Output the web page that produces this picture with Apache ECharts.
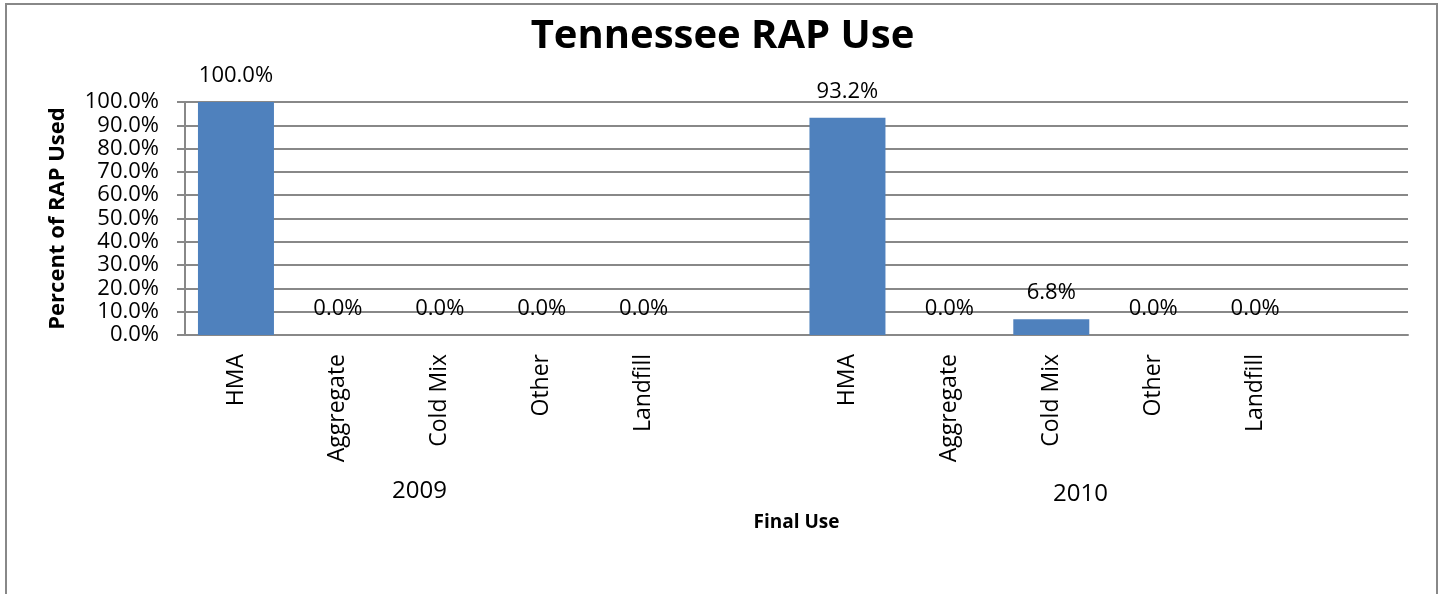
<!DOCTYPE html>
<html>
<head>
<meta charset="utf-8">
<script src="https://cdn.jsdelivr.net/npm/echarts@6/dist/echarts.min.js"></script>
<style>
  html, body { margin: 0; padding: 0; background: #fff; }
  #main { width: 1445px; height: 594px; }
</style>
</head>
<body>
<div id="main"></div>
<script>
// categories: 2009 group, gap, 2010 group, gap
var categories = ['HMA', 'Aggregate', 'Cold Mix', 'Other', 'Landfill', '',
                  'HMA', 'Aggregate', 'Cold Mix', 'Other', 'Landfill', ''];
var percentUsed = [100.0, 0.0, 0.0, 0.0, 0.0, null,
                   93.2, 0.0, 6.8, 0.0, 0.0, null];
var yearLabels = ['2009', '2010'];
var yTicks = [0, 10, 20, 30, 40, 50, 60, 70, 80, 90, 100];

var font = '"Open Sans", "Noto Sans", sans-serif';

var optionRapUse = {
    animation: false,
    backgroundColor: '#ffffff',
    title: {
        text: 'Tennessee RAP Use',
        left: 'center',
        top: 12,
        textStyle: { fontFamily: font, fontSize: 40, fontWeight: 'bold', color: '#000' }
    },
    grid: { left: 185, right: 37, top: 102, bottom: 259 },
    xAxis: [{
        type: 'category',
        data: categories,
        name: 'Final Use',
        nameLocation: 'middle',
        nameGap: 178,
        nameTextStyle: { fontFamily: font, fontSize: 19, fontWeight: 'bold', color: '#000' },
        axisLine: { lineStyle: { color: '#888', width: 2 } },
        axisTick: { show: false },
        axisLabel: { rotate: 90, margin: 19, interval: 0, fontFamily: font, fontSize: 23, color: '#000' }
    }],
    yAxis: [{
        type: 'value',
        min: yTicks[0],
        max: yTicks[yTicks.length - 1],
        interval: 10,
        name: 'Percent of RAP Used',
        nameLocation: 'middle',
        nameGap: 116,
        nameTextStyle: { fontFamily: font, fontSize: 22, fontWeight: 'bold', color: '#000' },
        axisLine: { show: true, lineStyle: { color: '#888', width: 2 } },
        axisTick: { show: true, inside: false, length: 8, lineStyle: { color: '#888', width: 2 } },
        splitLine: { lineStyle: { color: '#888', width: 2 } },
        axisLabel: {
            margin: 26, fontFamily: font, fontSize: 22, color: '#000',
            formatter: function (v) { return v.toFixed(1) + '%'; }
        }
    }],
    series: [{
        name: 'Percent of RAP Used',
        type: 'bar',
        data: percentUsed,
        barWidth: 76,
        itemStyle: { color: '#4f81bd' },
        label: {
            show: true,
            position: 'top',
            distance: 15,
            fontFamily: font, fontSize: 22, color: '#000',
            formatter: function (p) { return p.value == null ? '' : p.value.toFixed(1) + '%'; }
        }
    }],
    graphic: [
        {
            type: 'rect',
            shape: { x: 6, y: 4, width: 1431, height: 600 },
            style: { fill: 'none', stroke: '#888', lineWidth: 2 },
            silent: true
        },
        {
            type: 'text', left: 421 - 29, top: 479,
            style: { text: yearLabels[0], fontFamily: font, fontSize: 24, fill: '#000' }
        },
        {
            type: 'text', left: 1082 - 29, top: 482,
            style: { text: yearLabels[1], fontFamily: font, fontSize: 24, fill: '#000' }
        }
    ]
};

var chartRapUse = echarts.init(document.getElementById('main'));
chartRapUse.setOption(optionRapUse);
</script>
</body>
</html>
